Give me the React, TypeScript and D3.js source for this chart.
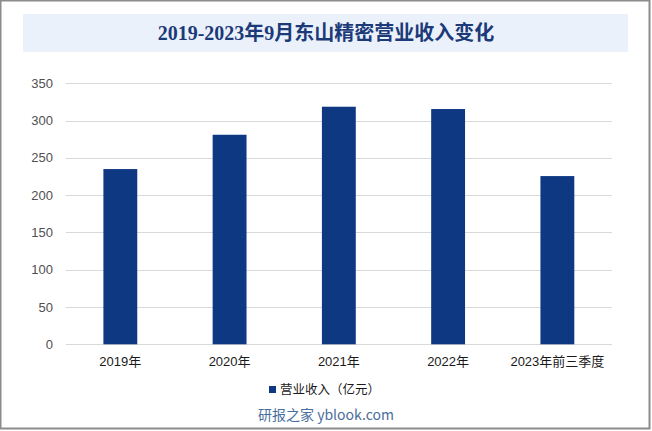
import { useRef, useEffect } from "react";
import * as d3 from "d3";

const categories = ["2019年", "2020年", "2021年", "2022年", "2023年前三季度"];
const revenue = [235, 281, 318.6, 315.5, 225.6];
const yTicks = [0, 50, 100, 150, 200, 250, 300, 350];
const title = "2019-2023年9月东山精密营业收入变化";
const seriesName = "营业收入（亿元）";
const watermark = "研报之家 yblook.com";

export default function App() {
  const ref = useRef<SVGSVGElement>(null);

  useEffect(() => {
    const width = 652;
    const height = 431;
    const margin = { top: 83.3, right: 40, bottom: 86.7, left: 65.7 };
    const barColor = "#0f3883";

    const svg = d3.select(ref.current);
    svg.selectAll("*").remove();

    // ---- Frame ----
    svg.append("rect")
      .attr("x", 0.5)
      .attr("y", 0.5)
      .attr("width", 649)
      .attr("height", 428)
      .attr("fill", "#fff")
      .attr("stroke", "#8c8c8c")
      .attr("stroke-width", 2);

    // ---- Title ----
    svg.append("rect")
      .attr("x", 23)
      .attr("y", 14)
      .attr("width", 605)
      .attr("height", 38)
      .attr("fill", "#eaf1fb");

    svg.append("text")
      .attr("x", 326)
      .attr("y", 40)
      .attr("text-anchor", "middle")
      .style("font-family", "'Liberation Serif', 'Noto Sans CJK SC', serif")
      .style("font-weight", "bold")
      .style("font-size", "20px")
      .style("fill", "#1c3a78")
      .text(title);

    // ---- Scales ----
    const x = d3
      .scaleBand()
      .domain(categories)
      .range([margin.left, width - margin.right])
      .paddingInner(0.69)
      .paddingOuter(0.345);

    const y = d3
      .scaleLinear()
      .domain([0, 350])
      .range([height - margin.bottom, margin.top]);

    // ---- Grid + y labels ----
    const grid = svg.append("g");
    grid.selectAll("line")
      .data(yTicks)
      .enter()
      .append("line")
      .attr("x1", margin.left)
      .attr("x2", width - margin.right)
      .attr("y1", (d) => Math.round(y(d)) + 0.5)
      .attr("y2", (d) => Math.round(y(d)) + 0.5)
      .attr("stroke", "#d9d9d9")
      .attr("stroke-width", 1);

    grid.selectAll("text")
      .data(yTicks)
      .enter()
      .append("text")
      .attr("x", 53)
      .attr("y", (d) => y(d))
      .attr("dy", "0.35em")
      .attr("text-anchor", "end")
      .style("font-family", "'Liberation Sans', Arial, sans-serif")
      .style("font-size", "13px")
      .style("fill", "#505050")
      .text((d) => d);

    // ---- Bars ----
    svg.append("g")
      .selectAll("rect")
      .data(revenue)
      .enter()
      .append("rect")
      .attr("x", (d, i) => x(categories[i])!)
      .attr("y", (d) => y(d))
      .attr("width", x.bandwidth())
      .attr("height", (d) => y(0) - y(d))
      .attr("fill", barColor);

    // ---- X axis labels ----
    svg.append("g")
      .selectAll("text")
      .data(categories)
      .enter()
      .append("text")
      .attr("x", (d) => x(d)! + x.bandwidth() / 2)
      .attr("y", 361)
      .attr("dy", "0.35em")
      .attr("text-anchor", "middle")
      .style("font-family", "'Liberation Sans', 'Noto Sans CJK SC', sans-serif")
      .style("font-size", "13px")
      .style("fill", "#1a1a1a")
      .text((d) => d);

    // ---- Legend ----
    svg.append("rect")
      .attr("x", 269)
      .attr("y", 386)
      .attr("width", 7)
      .attr("height", 7)
      .attr("fill", barColor);

    svg.append("text")
      .attr("x", 280)
      .attr("y", 389.5)
      .attr("dy", "0.35em")
      .style("font-family", "'Noto Sans CJK SC', sans-serif")
      .style("font-size", "12.5px")
      .style("fill", "#1a1a1a")
      .text(seriesName);

    // ---- Watermark ----
    svg.append("text")
      .attr("x", 326)
      .attr("y", 415)
      .attr("dy", "0.35em")
      .attr("text-anchor", "middle")
      .style("font-family", "'Noto Sans CJK SC', sans-serif")
      .style("font-size", "14px")
      .style("fill", "#4a6d9c")
      .text(watermark);
  }, []);

  return (
    <div style={{ position: "fixed", left: 0, top: 0 }}>
      <svg ref={ref} width={652} height={431} style={{ display: "block" }} />
    </div>
  );
}
